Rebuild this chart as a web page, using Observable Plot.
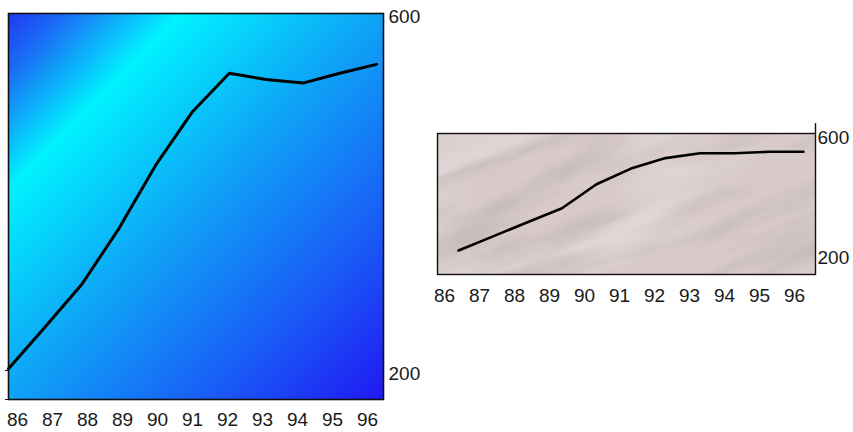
<!DOCTYPE html>
<html>
<head>
<meta charset="utf-8">
<script src="https://cdn.jsdelivr.net/npm/d3@7"></script>
<script src="https://cdn.jsdelivr.net/npm/@observablehq/plot@0.6"></script>
<style>
  html, body { margin: 0; padding: 0; background: #ffffff; }
  #wrap { position: relative; width: 853px; height: 432px; overflow: hidden; background: #fff; }
  #wrap > div { position: absolute; }
  svg { overflow: visible; }
</style>
</head>
<body>
<div id="wrap">
  <div id="leftMain" style="left:0;top:0"></div>
  <div id="leftLabels" style="left:0;top:399px"></div>
  <div id="rightMain" style="left:430px;top:110px"></div>
  <div id="rightLabels" style="left:430px;top:274px"></div>
</div>
<script>
// ---- data ----
const years = [86, 87, 88, 89, 90, 91, 92, 93, 94, 95, 96];
const yearLabels = ["86", "87", "88", "89", "90", "91", "92", "93", "94", "95", "96"];
const leftValues = [202, 249, 297, 359, 430, 490, 533, 526, 522, 533, 543];
const rightValues = [210, 257, 304, 351, 431, 483, 518, 534, 534, 539, 539];
const yTicks = [200, 600];

const leftXDomain = [86, 96.19];
const leftYDomain = [167.5, 600];
const rightXDomain = [85.39, 96.35];
const rightYDomain = [130, 600];
const rightAxisTop = 633;

const font = {fontFamily: "'Liberation Sans', Arial, sans-serif", fontSize: "19px", color: "#1a1a1a", background: "transparent"};

const leftData = years.map((y, i) => ({year: y, value: leftValues[i]}));
const rightData = years.map((y, i) => ({year: y, value: rightValues[i]}));

function gradientBg(index, scales, values, dims) {
  const {width, height, marginLeft, marginRight, marginTop, marginBottom} = dims;
  const g = d3.create("svg:g");
  const lg = g.append("defs").append("linearGradient")
    .attr("id", "blueGrad").attr("x1", 0).attr("y1", 0).attr("x2", 1).attr("y2", 1);
  [[0, "#2038f2"], [0.08, "#1a6ef6"], [0.23, "#00f2ff"], [0.5, "#0fa2f6"], [0.78, "#1a58f6"], [1, "#2018f2"]]
    .forEach(([o, c]) => lg.append("stop").attr("offset", o).attr("stop-color", c));
  g.append("rect")
    .attr("x", marginLeft).attr("y", marginTop)
    .attr("width", width - marginLeft - marginRight)
    .attr("height", height - marginTop - marginBottom)
    .attr("fill", "url(#blueGrad)");
  return g.node();
}

function textureBg(index, scales, values, dims) {
  const {width, height, marginLeft, marginRight, marginTop, marginBottom} = dims;
  const w = width - marginLeft - marginRight, h = height - marginTop - marginBottom;
  const g = d3.create("svg:g");
  const defs = g.append("defs");
  defs.append("clipPath").attr("id", "texClip").append("rect")
    .attr("x", marginLeft).attr("y", marginTop).attr("width", w).attr("height", h);
  const f = defs.append("filter").attr("id", "texDark")
    .attr("x", 0).attr("y", 0).attr("width", "100%").attr("height", "100%");
  f.append("feTurbulence").attr("type", "fractalNoise").attr("baseFrequency", "0.007 0.035").attr("numOctaves", 3).attr("seed", 7);
  f.append("feColorMatrix").attr("type", "matrix")
    .attr("values", "0 0 0 0 0.45  0 0 0 0 0.40  0 0 0 0 0.39  1.7 0 0 0 -0.78");
  const f2 = defs.append("filter").attr("id", "texLight")
    .attr("x", 0).attr("y", 0).attr("width", "100%").attr("height", "100%");
  f2.append("feTurbulence").attr("type", "fractalNoise").attr("baseFrequency", "0.005 0.02").attr("numOctaves", 2).attr("seed", 19);
  f2.append("feColorMatrix").attr("type", "matrix")
    .attr("values", "0 0 0 0 0.95  0 0 0 0 0.90  0 0 0 0 0.91  1.6 0 0 0 -0.7");
  g.append("rect")
    .attr("x", marginLeft).attr("y", marginTop).attr("width", w).attr("height", h)
    .attr("fill", "#d7cac9");
  const inner = g.append("g").attr("clip-path", "url(#texClip)");
  const cx = marginLeft + w / 2, cy = marginTop + h / 2;
  inner.append("rect")
    .attr("x", marginLeft - 120).attr("y", marginTop - 200).attr("width", w + 240).attr("height", h + 400)
    .attr("filter", "url(#texLight)").attr("opacity", 0.8)
    .attr("transform", `rotate(-22 ${cx} ${cy})`);
  inner.append("rect")
    .attr("x", marginLeft - 120).attr("y", marginTop - 200).attr("width", w + 240).attr("height", h + 400)
    .attr("filter", "url(#texDark)").attr("opacity", 0.75)
    .attr("transform", `rotate(-22 ${cx} ${cy})`);
  return g.node();
}

// ---- left chart ----
const leftMain = Plot.plot({
  width: 430, height: 432,
  marginLeft: 8, marginRight: 47, marginTop: 13, marginBottom: 33,
  style: font,
  x: {domain: leftXDomain, axis: null},
  y: {domain: leftYDomain},
  marks: [
    gradientBg,
    Plot.line(leftData, {x: "year", y: "value", stroke: "#000", strokeWidth: 3, strokeLinejoin: "round"}),
    Plot.frame({stroke: "#111", strokeWidth: 1.6}),
    Plot.axisY({anchor: "right", ticks: yTicks, tickSize: 0, tickPadding: 5, dy: 3, label: null, fill: "#1a1a1a"}),
    Plot.axisY({anchor: "left", ticks: [leftYDomain[0], 200], tickSize: 3, tickFormat: () => "", label: null, stroke: "#111"})
  ]
});
document.getElementById("leftMain").appendChild(leftMain);

const leftLabels = Plot.plot({
  width: 430, height: 33,
  marginLeft: 15, marginRight: 61, marginTop: 8, marginBottom: 0,
  style: font,
  x: {type: "point", domain: yearLabels, padding: 0, axis: null},
  marks: [Plot.text(yearLabels, {x: d => d, text: d => d, frameAnchor: "middle", fill: "#1a1a1a"})]
});
document.getElementById("leftLabels").appendChild(leftLabels);

// ---- right chart ----
const rightMain = Plot.plot({
  width: 423, height: 210,
  marginLeft: 7, marginRight: 38, marginTop: 23, marginBottom: 46,
  style: font,
  x: {domain: rightXDomain, axis: null},
  y: {domain: rightYDomain},
  marks: [
    textureBg,
    Plot.line(rightData, {x: "year", y: "value", stroke: "#000", strokeWidth: 2.6, strokeLinejoin: "round"}),
    Plot.frame({stroke: "#111", strokeWidth: 1.4}),
    Plot.ruleX([rightXDomain[1]], {y1: 600, y2: rightAxisTop, stroke: "#111", strokeWidth: 1.4}),
    Plot.axisY({anchor: "right", ticks: yTicks, tickSize: 0, tickPadding: 2, dy: 4, label: null, fill: "#1a1a1a"})
  ]
});
document.getElementById("rightMain").appendChild(rightMain);

const rightLabels = Plot.plot({
  width: 423, height: 46,
  marginLeft: 13, marginRight: 59, marginTop: 0, marginBottom: 4,
  style: font,
  x: {type: "point", domain: yearLabels, padding: 0, axis: null},
  marks: [Plot.text(yearLabels, {x: d => d, text: d => d, frameAnchor: "middle", fill: "#1a1a1a"})]
});
document.getElementById("rightLabels").appendChild(rightLabels);
</script>
</body>
</html>
